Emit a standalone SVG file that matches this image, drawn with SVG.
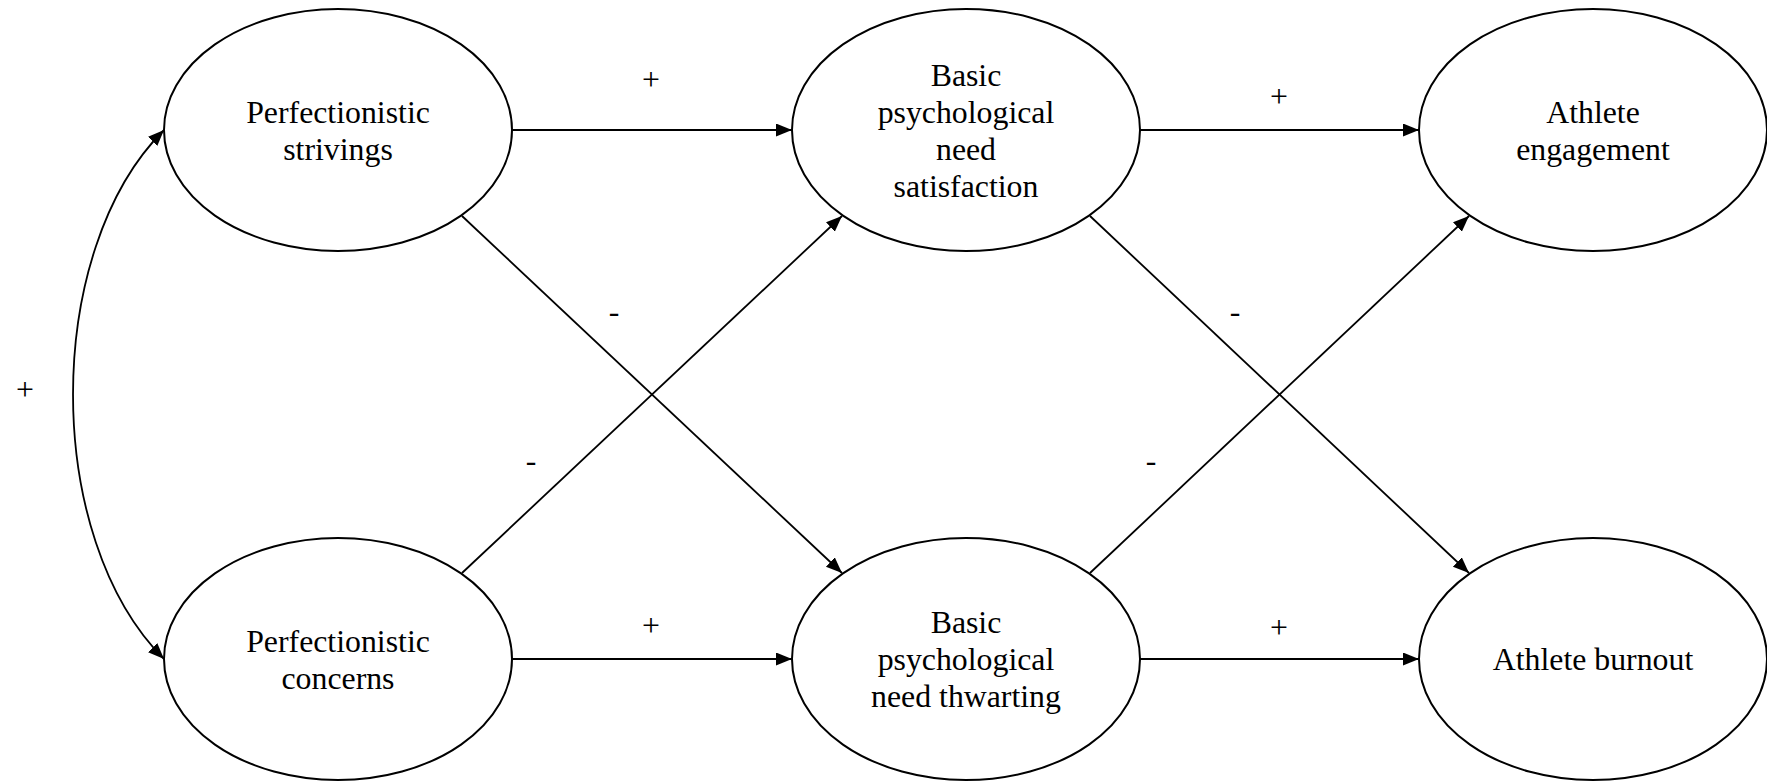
<svg xmlns="http://www.w3.org/2000/svg" width="1767" height="781" viewBox="0 0 1767 781">
<style>
.node ellipse{fill:#fff;stroke:#000;stroke-width:2}
.node text,.lbl{font-family:"Liberation Serif","Times New Roman",serif;font-size:31.8px;fill:#000;text-anchor:middle}
.edge{fill:none;stroke:#000;stroke-width:1.8}
</style>
<defs>
<marker id="arr" markerUnits="userSpaceOnUse" markerWidth="17" markerHeight="14" refX="16" refY="6.5" orient="auto-start-reverse">
<path d="M0,0 L16,6.5 L0,13 z" fill="#000"/>
</marker>
</defs>
<rect width="1767" height="781" fill="#fff"/>
<g id="connectors">
<path class="edge" d="M164,130 C42.7,251 42.7,538 164,659" marker-start="url(#arr)" marker-end="url(#arr)"/>
<line class="edge" x1="512" y1="130" x2="792" y2="130" marker-end="url(#arr)"/>
<line class="edge" x1="512" y1="659" x2="792" y2="659" marker-end="url(#arr)"/>
<line class="edge" x1="1140" y1="130" x2="1419" y2="130" marker-end="url(#arr)"/>
<line class="edge" x1="1140" y1="659" x2="1419" y2="659" marker-end="url(#arr)"/>
<line class="edge" x1="462" y1="216" x2="842" y2="573" marker-end="url(#arr)"/>
<line class="edge" x1="462" y1="573" x2="842" y2="216" marker-end="url(#arr)"/>
<line class="edge" x1="1090" y1="216" x2="1469" y2="573" marker-end="url(#arr)"/>
<line class="edge" x1="1090" y1="573" x2="1469" y2="216" marker-end="url(#arr)"/>
<text class="lbl" x="25" y="400">+</text>
<text class="lbl" x="651" y="90">+</text>
<text class="lbl" x="1279" y="107">+</text>
<text class="lbl" x="651" y="636">+</text>
<text class="lbl" x="1279" y="638">+</text>
<text class="lbl" x="614" y="322">-</text>
<text class="lbl" x="531" y="471">-</text>
<text class="lbl" x="1235" y="322">-</text>
<text class="lbl" x="1151" y="471">-</text>
</g>
<g id="ps" class="node">
<ellipse cx="338" cy="130" rx="174" ry="121"/>
<text x="338" y="122.5">Perfectionistic</text>
<text x="338" y="159.5">strivings</text>
</g>
<g id="pc" class="node">
<ellipse cx="338" cy="659" rx="174" ry="121"/>
<text x="338" y="651.5">Perfectionistic</text>
<text x="338" y="688.5">concerns</text>
</g>
<g id="bpns" class="node">
<ellipse cx="966" cy="130" rx="174" ry="121"/>
<text x="966" y="85.5">Basic</text>
<text x="966" y="122.5">psychological</text>
<text x="966" y="159.5">need</text>
<text x="966" y="196.5">satisfaction</text>
</g>
<g id="bpnt" class="node">
<ellipse cx="966" cy="659" rx="174" ry="121"/>
<text x="966" y="633">Basic</text>
<text x="966" y="670">psychological</text>
<text x="966" y="707">need thwarting</text>
</g>
<g id="ae" class="node">
<ellipse cx="1593" cy="130" rx="174" ry="121"/>
<text x="1593" y="122.5">Athlete</text>
<text x="1593" y="159.5">engagement</text>
</g>
<g id="ab" class="node">
<ellipse cx="1593" cy="659" rx="174" ry="121"/>
<text x="1593" y="670">Athlete burnout</text>
</g>
</svg>
